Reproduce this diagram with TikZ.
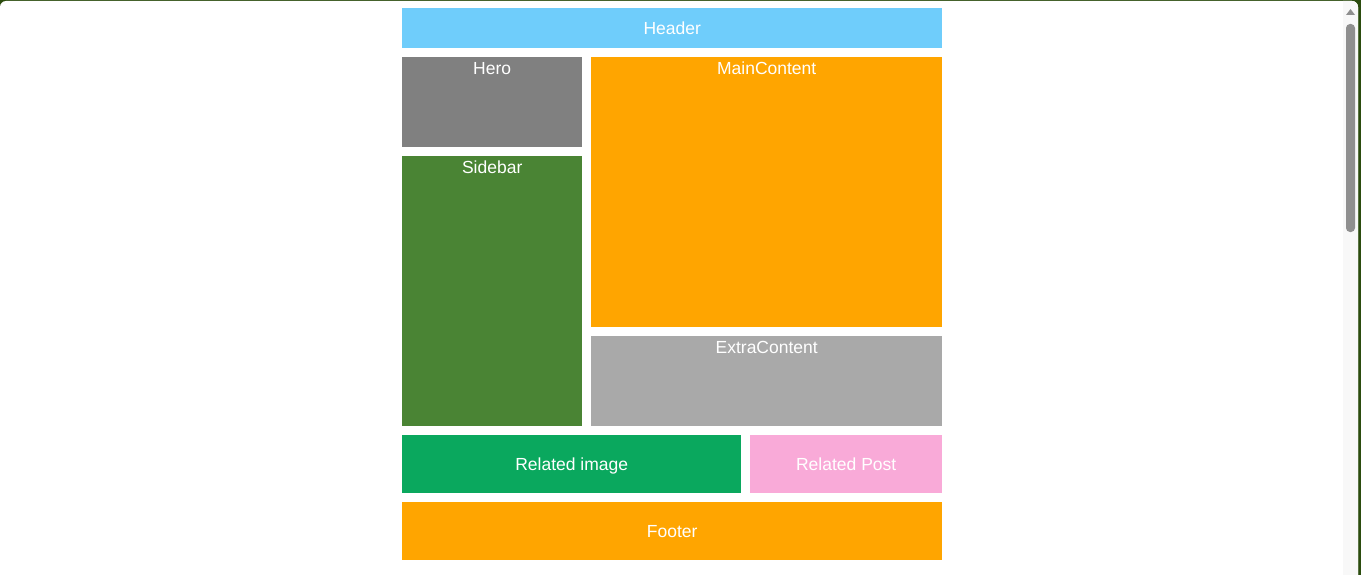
\documentclass[tikz,border=0pt]{standalone}
\usepackage{fontspec}
\setmainfont{Liberation Sans}
\definecolor{frame}{HTML}{2B4C0E}
\definecolor{hdr}{HTML}{6FCDFB}
\definecolor{hero}{HTML}{808080}
\definecolor{orng}{HTML}{FFA500}
\definecolor{side}{HTML}{4A8434}
\definecolor{extra}{HTML}{A9A9A9}
\definecolor{relimg}{HTML}{0AA85E}
\definecolor{relpost}{HTML}{F9AAD8}
\definecolor{track}{HTML}{F8F8F8}
\definecolor{thumb}{HTML}{8F8F8F}
\tikzset{
  box/.style={draw=none, inner sep=0pt, anchor=north west, text=white,
    font=\fontsize{17.5}{20}\selectfont, text height=12.5pt, text depth=0pt},
  toplbl/.style={anchor=north, inner sep=0pt, text=white,
    font=\fontsize{17.5}{20}\selectfont, text height=12.5pt, text depth=0pt, yshift=-5pt}
}
\begin{document}
\begin{tikzpicture}[x=1pt,y=-1pt]
\useasboundingbox (0,0) rectangle (1361,575);
\fill[frame] (0,0) rectangle (1361,575);
\fill[white, rounded corners=6pt] (0,1) rectangle (1358,590);
\fill[track] (1343,1) -- (1352,1) arc[start angle=90,end angle=0,radius=6pt] -- (1358,575) -- (1343,575) -- cycle;
\fill[thumb, rounded corners=4pt] (1346,24) rectangle (1355,232);
\fill[thumb] (1350.5,9) -- (1355,15) -- (1346,15) -- cycle;

\node[box, fill=hdr, minimum width=540pt, minimum height=40pt] (header) at (402,8) {Header};
\node[box, fill=hero, minimum width=180pt, minimum height=90pt] (hero) at (402,57) {};
\node[toplbl] at (hero.north) {Hero};
\node[box, fill=orng, minimum width=351pt, minimum height=270pt] (main) at (591,57) {};
\node[toplbl] at (main.north) {MainContent};
\node[box, fill=side, minimum width=180pt, minimum height=270pt] (side) at (402,156) {};
\node[toplbl] at (side.north) {Sidebar};
\node[box, fill=extra, minimum width=351pt, minimum height=90pt] (extra) at (591,336) {};
\node[toplbl] at (extra.north) {ExtraContent};
\node[box, fill=relimg, minimum width=339pt, minimum height=58pt] (relimg) at (402,435) {Related image};
\node[box, fill=relpost, minimum width=192pt, minimum height=58pt] (relpost) at (750,435) {Related Post};
\node[box, fill=orng, minimum width=540pt, minimum height=58pt] (footer) at (402,502) {Footer};
\end{tikzpicture}
\end{document}
